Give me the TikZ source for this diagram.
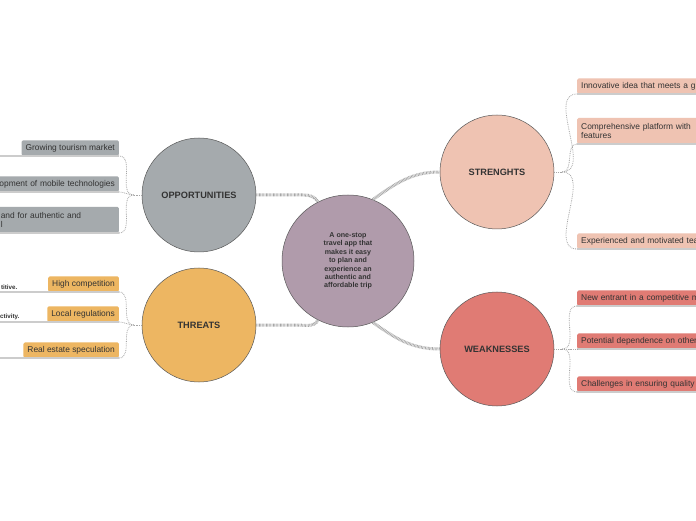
\documentclass[tikz,border=0pt]{standalone}
\usepackage{fontspec}
\setmainfont{Liberation Sans}
\usetikzlibrary{positioning}
\definecolor{hubmauve}{HTML}{B09BAB}
\definecolor{oppgray}{HTML}{A5AAAD}
\definecolor{thrgold}{HTML}{EDB662}
\definecolor{strpeach}{HTML}{EFC3B2}
\definecolor{wkred}{HTML}{E07B74}

\begin{document}
\begin{tikzpicture}[
        x=1pt, y=1pt,
        every node/.style={font=\fontsize{8.4}{9.4}\selectfont, text=black!80},
        topic/.style={circle, draw=gray!70!black, line width=0.5pt, minimum size=114pt,
                      inner sep=0pt, font=\fontsize{9.2}{10}\selectfont\bfseries},
        leaf/.style={rounded corners=1.5pt, inner xsep=4pt, inner ysep=2pt,
                     minimum height=15.5pt, align=left},
        tiny/.style={font=\fontsize{6.2}{7}\selectfont\bfseries, inner sep=0.5pt},
        band/.style={gray!70, line width=3pt, dash pattern=on 0.7pt off 0.7pt},
        twig/.style={gray!70, line width=0.8pt, densely dotted},
        rule/.style={gray!40, line width=1.2pt},
    ]
        % --- Canvas ---
        \useasboundingbox (0,0) rectangle (696,520);
        \fill[white] (0,0) rectangle (696,520);
        \clip (0,0) rectangle (696,520);
        \coordinate (lft) at (0,0);
        \coordinate (rgt) at (696,0);

        % --- Main topics ---
        \node[topic, fill=hubmauve, minimum size=132pt, align=center,
              font=\fontsize{7.1}{8.4}\selectfont\bfseries] (hub) at (348,259)
              {A one-stop\\travel app that\\makes it easy\\to plan and\\experience an\\authentic and\\affordable trip};
        \node[topic, fill=oppgray]  (opp) at (199,325) {OPPORTUNITIES};
        \node[topic, fill=thrgold]  (thr) at (199,195) {THREATS};
        \node[topic, fill=strpeach] (str) at (497,348) {STRENGHTS};
        \node[topic, fill=wkred]    (wk)  at (497,171) {WEAKNESSES};

        % --- Opportunities ---
        \node[leaf, fill=oppgray, anchor=south east] (opp1) at (119,364) {Growing tourism market};
        \node[leaf, fill=oppgray, anchor=south east, text width=140pt, align=right] (opp2) at (119,328) {opment of mobile technologies};
        \node[leaf, fill=oppgray, anchor=south east, text width=114pt, minimum height=26pt] (opp3) at (119,287) {and for authentic and\\[-1pt]l};

        % --- Threats ---
        \node[leaf, fill=thrgold, anchor=south east] (thr1) at (119,228) {High competition};
        \node[leaf, fill=thrgold, anchor=south east] (thr2) at (119,198) {Local regulations};
        \node[leaf, fill=thrgold, anchor=south east] (thr3) at (119,162) {Real estate speculation};
        \node[tiny, anchor=south east] (thr1x) at (18,229.5) {titive.};
        \node[tiny, anchor=south east] (thr2x) at (20,199.5) {ctivity.};

        % --- Strengths ---
        \node[leaf, fill=strpeach, anchor=south west, text width=150pt] (str1) at (577,426) {Innovative idea that meets a g};
        \node[leaf, fill=strpeach, anchor=south west, text width=150pt, minimum height=26pt] (str2) at (577,376) {Comprehensive platform with\\[-1pt]features};
        \node[leaf, fill=strpeach, anchor=south west, text width=150pt] (str3) at (577,271) {Experienced and motivated tea};

        % --- Weaknesses ---
        \node[leaf, fill=wkred, anchor=south west, text width=150pt] (wk1) at (577,214) {New entrant in a competitive m};
        \node[leaf, fill=wkred, anchor=south west, text width=150pt] (wk2) at (577,171) {Potential dependence on other};
        \node[leaf, fill=wkred, anchor=south west, text width=150pt] (wk3) at (577,128) {Challenges in ensuring quality .};

        % --- Underlines ---
        \draw[rule] (opp1.south east) -- (opp1.south east -| lft);
        \draw[rule] (opp2.south east) -- (opp2.south east -| lft);
        \draw[rule] (opp3.south east) -- (opp3.south east -| lft);
        \draw[rule] (thr1.south east) -- (thr1.south east -| lft);
        \draw[rule] (thr2.south east) -- (thr2.south east -| lft);
        \draw[rule] (thr3.south east) -- (thr3.south east -| lft);
        \draw[rule] (str1.south west) -- (str1.south west -| rgt);
        \draw[rule] (str2.south west) -- (str2.south west -| rgt);
        \draw[rule] (str3.south west) -- (str3.south west -| rgt);
        \draw[rule] (wk1.south west) -- (wk1.south west -| rgt);
        \draw[rule] (wk2.south west) -- (wk2.south west -| rgt);
        \draw[rule] (wk3.south west) -- (wk3.south west -| rgt);

        % --- Hub to topics ---
        \draw[band] (opp.east) -- ++(40,0) to[out=0, in=117] (hub.117);
        \draw[band] (thr.east) -- ++(40,0) to[out=0, in=-117] (hub.-117);
        \draw[band] (hub.68) to[out=35, in=180] (str.west);
        \draw[band] (hub.-68) to[out=-35, in=180] (wk.west);

        % --- Topics to leaves ---
        \draw[twig] (opp.west) -- ++(-8,0) coordinate (oppfork);
        \draw[twig] (oppfork) to[out=180, in=0] (opp1.south east);
        \draw[twig] (oppfork) to[out=180, in=0] (opp2.south east);
        \draw[twig] (oppfork) to[out=180, in=0] (opp3.south east);
        \draw[twig] (thr.west) -- ++(-8,0) coordinate (thrfork);
        \draw[twig] (thrfork) to[out=180, in=0] (thr1.south east);
        \draw[twig] (thrfork) to[out=180, in=0] (thr2.south east);
        \draw[twig] (thrfork) to[out=180, in=0] (thr3.south east);
        \draw[twig] (str.east) -- ++(8,0) coordinate (strfork);
        \draw[twig] (strfork) to[out=0, in=180] (str1.south west);
        \draw[twig] (strfork) to[out=0, in=180] (str2.south west);
        \draw[twig] (strfork) to[out=0, in=180] (str3.south west);
        \draw[twig] (wk.east) -- ++(8,0) coordinate (wkfork);
        \draw[twig] (wkfork) to[out=0, in=180] (wk1.south west);
        \draw[twig] (wkfork) to[out=0, in=180] (wk2.south west);
        \draw[twig] (wkfork) to[out=0, in=180] (wk3.south west);

    \end{tikzpicture}
\end{document}
